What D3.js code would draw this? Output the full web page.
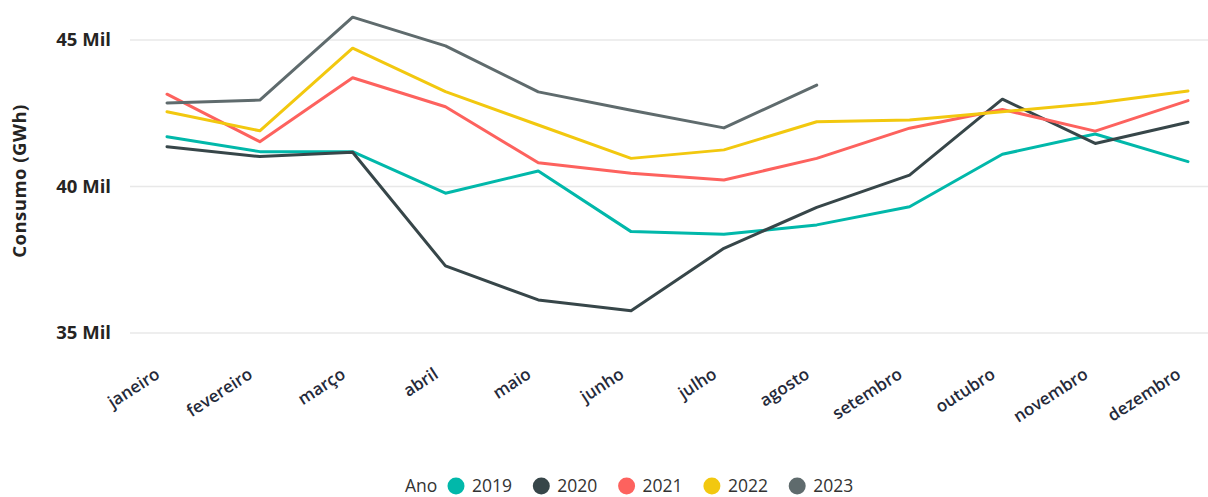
<!DOCTYPE html>
<html>
<head>
<meta charset="utf-8">
<script src="https://cdn.jsdelivr.net/npm/d3@7"></script>
<style>
html,body{margin:0;padding:0;background:#fff;}
svg{display:block;font-family:"Open Sans","DejaVu Sans",sans-serif;}
</style>
</head>
<body>
<svg id="chart" width="1208" height="497"></svg>
<script>
const months = ["janeiro","fevereiro","março","abril","maio","junho","julho","agosto","setembro","outubro","novembro","dezembro"];
const years = ["2019","2020","2021","2022","2023"];
const colors = ["#01B8AA","#374649","#FD625E","#F2C80F","#5F6B6D"];
const v2019 = [41.70,41.19,41.19,39.77,40.53,38.46,38.37,38.69,39.31,41.10,41.79,40.85];
const v2020 = [41.36,41.02,41.17,37.29,36.13,35.76,37.89,39.29,40.39,42.98,41.47,42.19];
const v2021 = [43.15,41.53,43.71,42.72,40.81,40.45,40.22,40.96,41.99,42.63,41.89,42.93];
const v2022 = [42.55,41.90,44.72,43.24,42.10,40.96,41.25,42.21,42.27,42.55,42.84,43.26];
const v2023 = [42.85,42.95,45.78,44.80,43.23,42.60,42.00,43.46];
const yTicks = [35,40,45];
const yTickLabels = ["35 Mil","40 Mil","45 Mil"];
const seriesValues = [v2019,v2020,v2021,v2022,v2023];

const svg = d3.select("#chart");
const x = d3.scalePoint().domain(months).range([167,1188]);
const y = d3.scaleLinear().domain([35,45]).range([333,40]);

// gridlines
svg.append("g").selectAll("line").data(yTicks).join("line")
  .attr("x1",130).attr("x2",1208)
  .attr("y1",d=>y(d)).attr("y2",d=>y(d))
  .attr("stroke","#e8e8e8").attr("stroke-width",1.5);

// y axis labels
svg.append("g").selectAll("text").data(yTicks).join("text")
  .attr("x",111).attr("y",d=>y(d)).attr("dy","0.35em")
  .attr("text-anchor","end").attr("font-size",18.5).attr("font-weight","bold")
  .attr("fill","#252423")
  .text((d,i)=>yTickLabels[i]);

// y title
svg.append("text")
  .attr("transform","translate(26,181) rotate(-90)")
  .attr("text-anchor","middle").attr("font-size",18.5).attr("font-weight","bold")
  .attr("letter-spacing","0.5")
  .attr("fill","#252423").text("Consumo (GWh)");

// x axis labels
svg.append("g").selectAll("text").data(months).join("text")
  .attr("transform",d=>`translate(${x(d)-6},${377}) rotate(-33)`)
  .attr("text-anchor","end").attr("font-size",17).attr("font-weight","600")
  .attr("fill","#252a3a").text(d=>d);

// lines
const line = d3.line().x((d,i)=>x(months[i])).y(d=>y(d));
svg.append("g").selectAll("path").data(seriesValues).join("path")
  .attr("d",d=>line(d)).attr("fill","none")
  .attr("stroke",(d,i)=>colors[i]).attr("stroke-width",3)
  .attr("stroke-linejoin","round").attr("stroke-linecap","round");

// legend
const lg = svg.append("g");
lg.append("text").attr("x",405).attr("y",486).attr("dy","0.35em")
  .attr("font-size",17.5).attr("fill","#333").text("Ano");
const items = lg.selectAll("g.item").data(years).join("g")
  .attr("transform",(d,i)=>`translate(${456+i*85.3},486)`);
items.append("circle").attr("r",8.5).attr("fill",(d,i)=>colors[i]);
items.append("text").attr("x",16).attr("dy","0.35em").attr("font-size",17.5)
  .attr("fill","#333").text(d=>d);
</script>
</body>
</html>
